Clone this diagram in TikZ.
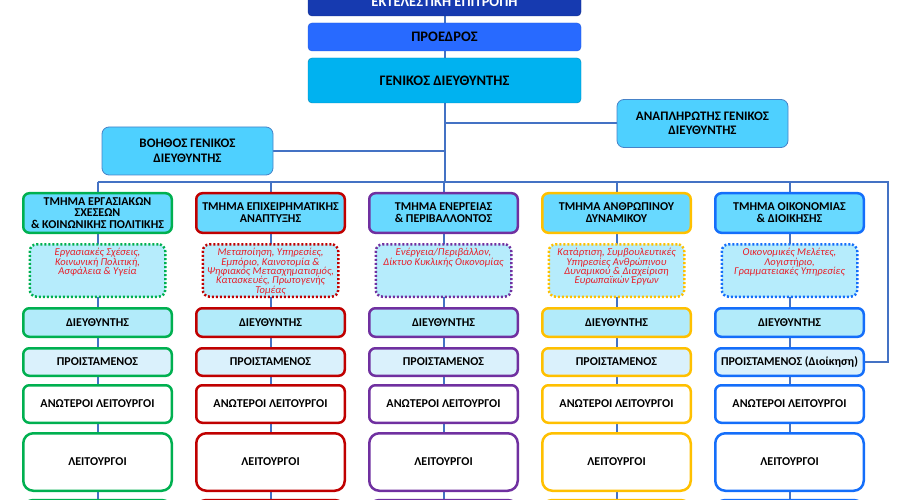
\documentclass[tikz,border=0pt]{standalone}
\usepackage{fontspec}
\setmainfont{Carlito}
\usetikzlibrary{backgrounds}
\definecolor{execblue}{RGB}{22,58,176}
\definecolor{presblue}{RGB}{40,106,255}
\definecolor{gdcyan}{RGB}{0,178,240}
\definecolor{asscyan}{RGB}{78,208,255}
\definecolor{assborder}{RGB}{70,130,200}
\definecolor{headfill}{RGB}{104,217,255}
\definecolor{descfill}{RGB}{182,236,252}
\definecolor{dirfill}{RGB}{178,235,250}
\definecolor{prfill}{RGB}{218,241,252}
\definecolor{linkblue}{RGB}{68,114,196}
\definecolor{descred}{RGB}{232,30,40}
\definecolor{colgreen}{RGB}{0,176,80}
\definecolor{colred}{RGB}{192,0,0}
\definecolor{colpurple}{RGB}{112,48,160}
\definecolor{colyellow}{RGB}{255,192,0}
\definecolor{colblue}{RGB}{20,110,250}
\begin{document}
\begin{tikzpicture}[x=1pt,y=-1pt,
    link/.style={draw=linkblue,line width=2pt},
    topbox/.style={rounded corners=4pt,minimum width=273pt,inner sep=0pt,font=\bfseries\fontsize{14.5}{16}\selectfont},
    assist/.style={draw=assborder,line width=0.8pt,fill=asscyan,rounded corners=7pt,minimum width=171pt,minimum height=48pt,align=center,inner sep=0pt,font=\bfseries\fontsize{13}{14.5}\selectfont},
    dept/.style={draw=#1,line width=2.5pt,fill=headfill,rounded corners=6pt,minimum width=148.5pt,minimum height=39.5pt,align=center,inner sep=0pt,font=\bfseries\fontsize{12}{11.8}\selectfont},
    desc/.style={draw=#1,line width=2.5pt,dash pattern=on 2pt off 2pt,fill=descfill,rounded corners=7pt,inner sep=4pt,text=descred,font=\itshape\fontsize{10.5}{9.4}\selectfont},
    rank/.style={draw=#1,line width=2.5pt,rounded corners=6pt,minimum width=148.5pt,inner sep=0pt,font=\bfseries\fontsize{12}{14}\selectfont}]
    \useasboundingbox (0,0) rectangle (900,500);
    \clip (0,0) rectangle (900,500);
    % top of the chart
    \node[topbox,draw=execblue!80!black,fill=execblue,text=white,minimum height=28pt] (ekt) at (444.5,2) {ΕΚΤΕΛΕΣΤΙΚΗ ΕΠΙΤΡΟΠΗ};
    \node[topbox,draw=presblue!85!black,fill=presblue,minimum height=28pt] (pro) at (444.5,37) {ΠΡΟΕΔΡΟΣ};
    \node[topbox,draw=gdcyan!75!black,fill=gdcyan,minimum height=45pt] (gd) at (444.5,80.5) {ΓΕΝΙΚΟΣ ΔΙΕΥΘΥΝΤΗΣ};
    \node[assist] (ana) at (702.5,123.5) {ΑΝΑΠΛΗΡΩΤΗΣ ΓΕΝΙΚΟΣ\\ΔΙΕΥΘΥΝΤΗΣ};
    \node[assist] (boh) at (187.5,151) {ΒΟΗΘΟΣ ΓΕΝΙΚΟΣ\\ΔΙΕΥΘΥΝΤΗΣ};
    \coordinate (bus) at (0,182);
    \coordinate (busend) at (888,182);
    % departments
    \foreach \i/\cx/\col/\hd/\ds/\pt in {
        1/97.5/colgreen/{ΤΜΗΜΑ ΕΡΓΑΣΙΑΚΩΝ\\ΣΧΕΣΕΩΝ\\\& ΚΟΙΝΩΝΙΚΗΣ ΠΟΛΙΤΙΚΗΣ}/{Εργασιακές Σχέσεις,\\Κοινωνική Πολιτική,\\Ασφάλεια \& Υγεία}/{ΠΡΟΙΣΤΑΜΕΝΟΣ},
        2/270.5/colred/{ΤΜΗΜΑ ΕΠΙΧΕΙΡΗΜΑΤΙΚΗΣ\\ΑΝΑΠΤΥΞΗΣ}/{Μεταποίηση, Υπηρεσίες,\\Εμπόριο, Καινοτομία \&\\Ψηφιακός Μετασχηματισμός,\\Κατασκευές, Πρωτογενής\\Τομέας}/{ΠΡΟΙΣΤΑΜΕΝΟΣ},
        3/443.5/colpurple/{ΤΜΗΜΑ ΕΝΕΡΓΕΙΑΣ\\\& ΠΕΡΙΒΑΛΛΟΝΤΟΣ}/{Ενέργεια/Περιβάλλον,\\Δίκτυο Κυκλικής Οικονομίας}/{ΠΡΟΙΣΤΑΜΕΝΟΣ},
        4/616.5/colyellow/{ΤΜΗΜΑ ΑΝΘΡΩΠΙΝΟΥ\\ΔΥΝΑΜΙΚΟΥ}/{Κατάρτιση, Συμβουλευτικές\\Υπηρεσίες Ανθρώπινου\\Δυναμικού \& Διαχείριση\\Ευρωπαϊκών Έργων}/{ΠΡΟΙΣΤΑΜΕΝΟΣ},
        5/789.5/colblue/{ΤΜΗΜΑ ΟΙΚΟΝΟΜΙΑΣ\\\& ΔΙΟΙΚΗΣΗΣ}/{Οικονομικές Μελέτες,\\Λογιστήριο,\\Γραμματειακές Υπηρεσίες}/{ΠΡΟΙΣΤΑΜΕΝΟΣ (Διοίκηση)}} {
        \node[dept=\col] (hd\i) at (\cx,213) {\hd};
        \node[desc=\col] (ds\i) at (\cx,270.5) {\parbox[t][44.5pt][t]{127.5pt}{\centering\ds}};
        \node[rank=\col,fill=dirfill,minimum height=28.5pt] (dr\i) at (\cx,322.5) {ΔΙΕΥΘΥΝΤΗΣ};
        \node[rank=\col,fill=prfill,minimum height=27.5pt] (pr\i) at (\cx,362) {\pt};
        \node[rank=\col,fill=white,minimum height=37.5pt] (an\i) at (\cx,404) {ΑΝΩΤΕΡΟΙ ΛΕΙΤΟΥΡΓΟΙ};
        \node[rank=\col,fill=white,minimum height=57.5pt,rounded corners=10pt] (le\i) at (\cx,462) {ΛΕΙΤΟΥΡΓΟΙ};
        \node[rank=\col,fill=white,minimum height=40pt,rounded corners=10pt] (nx\i) at (\cx,520) {};
    }
    % connectors
    \begin{pgfonlayer}{background}
        \draw[link] (ekt) -- (gd.south |- bus);
        \draw[link] (boh.east) -- (boh.east -| gd.south);
        \draw[link] (ana.west) -- (ana.west -| gd.south);
        \draw[link] (hd1.north |- bus) -- (busend) |- (pr5.east);
        \foreach \i in {1,...,5}
            \draw[link] (hd\i.north |- bus) -- (nx\i.north);
    \end{pgfonlayer}
\end{tikzpicture}
\end{document}
